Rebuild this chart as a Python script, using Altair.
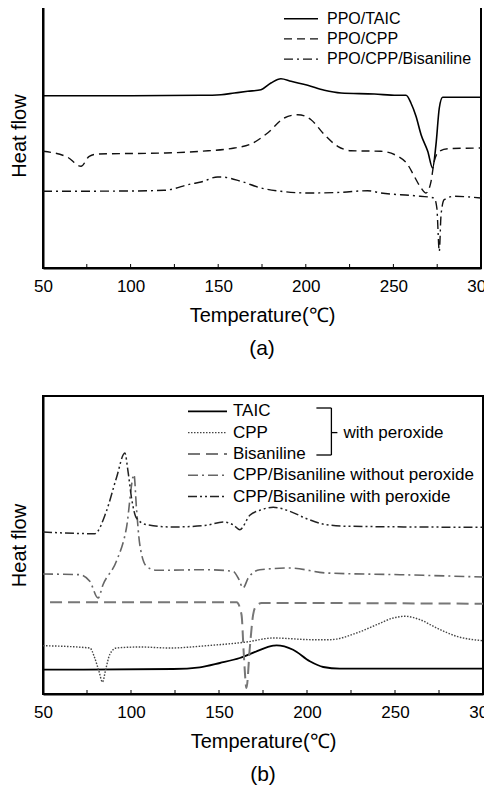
import altair as alt
import pandas as pd

# ---------------- Panel (a) data (Heat flow in arbitrary units) ----------------
A_TAIC_T = [50, 100, 140.2, 151.6, 159.2, 166.8, 174.4, 180.1, 185.8, 191.6, 201.1, 210.6, 220.1,
            239.1, 252, 257.2, 260.0, 262.9, 265.8, 269.6, 272.4, 274.3, 276.2, 278.1, 285, 300]
A_TAIC_H = [172.3, 172.3, 172.7, 173.3, 175, 176.7, 178.3, 185, 189.3, 186.7, 182.7, 177.7, 175,
            174, 172.7, 172.7, 165, 151.7, 133.3, 116.7, 100, 123.3, 160, 170.7, 170.7, 170.7]

A_CPP_T = [50, 64.1, 71.7, 76.4, 81.2, 120, 140.2, 159.2, 168.7, 178.2, 187.7, 195.4, 203, 210.6,
           218.2, 225.8, 242.9, 252.5, 258.2, 261.9, 265.8, 268.6, 271.5, 273.3, 276.2, 281, 300]
A_CPP_H = [116.7, 110.7, 101.7, 111.7, 114, 115, 116.7, 120, 124, 135, 150, 153.3, 148.3, 133.3,
           121.7, 117.3, 116.7, 111.7, 103.3, 91.7, 80, 75, 86.7, 106.7, 116.7, 119.3, 120]

A_BIS_T = [50, 100, 119.2, 134.5, 140.2, 149.7, 151.6, 163, 174.4, 185.8, 201.1, 220.1, 235.3,
           242.9, 261.9, 273.3, 274.8, 276.2, 277.2, 279, 284.8, 300]
A_BIS_H = [76.7, 77, 77.7, 84, 86, 91, 91, 86.7, 80, 76.7, 75, 75.7, 77.3,
           75, 72.3, 70, 60, 16.7, 53.3, 68.3, 71.7, 70]

A_LABELS = ["PPO/TAIC", "PPO/CPP", "PPO/CPP/Bisaniline"]

# ---------------- Panel (b) data ----------------
B_TAIC_T = [50, 123.9, 139.1, 150.5, 161.8, 171.3, 180.8, 182.7, 192.1, 201.6, 209.2, 218.7, 300]
B_TAIC_H = [24.3, 25, 26.7, 31, 36, 42.7, 48.3, 48.7, 44.3, 32.7, 27, 25.3, 25.3]

B_CPP_T = [50, 76.6, 79.4, 81.8, 83.8, 85.6, 87.9, 91.7, 105, 122, 142.9, 165.6, 180.8, 203.5,
           213, 228.2, 239.6, 249, 255.7, 264.2, 273.7, 285, 300]
B_CPP_H = [48.3, 46, 36, 22.7, 12, 24.3, 39.3, 46, 47, 46, 48.3, 52, 56, 54.3,
           54.3, 61, 69.3, 76, 77.7, 74.3, 66, 57.7, 53.3]

B_BIS_T = [54, 160, 162.8, 164.1, 165.6, 167.5, 169.4, 170.4, 174.2, 300]
B_BIS_H = [91.7, 91.7, 79.3, 39.3, 6, 46, 79.3, 86, 91, 90.3]

B_WO_T = [50, 70.9, 76.6, 81.3, 84.1, 91.7, 97.4, 101.7, 103.1, 105, 108.8, 114.5, 142.9, 158,
          160.9, 163.7, 166.6, 173.2, 190.3, 211.1, 252.8, 300]
B_WO_H = [120, 119.3, 112.7, 96, 109.3, 132.7, 166, 219.3, 186, 149.3, 127.7, 123.7, 124.3, 122.7,
          116, 106, 116, 124.3, 126, 121, 119.3, 117]

B_W_T = [50, 79.4, 86, 91.7, 96.5, 98.3, 100.3, 103.1, 108.8, 123.9, 142.9, 152.3, 158, 161.8,
         167.5, 173.2, 180.8, 190.3, 199.8, 211.1, 224.4, 300]
B_W_H = [162, 160.3, 182.7, 216, 241, 222.7, 196, 176, 169.3, 167, 168.7, 172, 169.3, 164.3,
         178.7, 183.7, 186.7, 182.7, 175.3, 169.3, 167.7, 166.7]

B_LABELS = ["TAIC", "CPP", "Bisaniline", "CPP/Bisaniline without peroxide",
            "CPP/Bisaniline with peroxide"]
BRACKET_TEXT = "with peroxide"

X_TICKS = [50, 100, 150, 200, 250, 300]
INNER_TICKS = [75, 100, 125, 150, 175, 200, 225, 250, 275]

FONT = "Liberation Sans"

A_STYLES = [
    dict(color="#000000", strokeWidth=1.6),
    dict(color="#111111", strokeWidth=1.4, strokeDash=[8, 5]),
    dict(color="#111111", strokeWidth=1.4, strokeDash=[9, 4, 2, 4]),
]
B_STYLES = [
    dict(color="#000000", strokeWidth=1.8),
    dict(color="#444444", strokeWidth=1.4, strokeDash=[1.5, 1.5]),
    dict(color="#777777", strokeWidth=2.0, strokeDash=[12, 6]),
    dict(color="#666666", strokeWidth=1.6, strokeDash=[10, 4, 2, 4]),
    dict(color="#222222", strokeWidth=1.5, strokeDash=[9, 3, 2, 3, 2, 3]),
]


def panel(series, styles, labels, W, H, ydom, leg, title, legend_font, bracket=None):
    xs = alt.Scale(domain=[50, 300], nice=False, zero=False)
    ys = alt.Scale(domain=ydom, nice=False, zero=False)
    xax = alt.Axis(values=X_TICKS, ticks=False, tickSize=0, grid=False, labelPadding=10,
                   labelFlush=False, labelOverlap=False,
                   title="Temperature(℃)", titlePadding=11, domainColor="black", domainWidth=2)
    yax = alt.Axis(labels=False, ticks=False, tickSize=0, grid=False, title="Heat flow",
                   titlePadding=14, domainColor="black", domainWidth=2)
    layers = []
    for (T, Hv), st in zip(series, styles):
        df = pd.DataFrame({"T": T, "H": Hv})
        layers.append(
            alt.Chart(df).mark_line(interpolate="monotone", **st).encode(
                x=alt.X("T:Q", scale=xs, axis=xax),
                y=alt.Y("H:Q", scale=ys, axis=yax),
            )
        )
    # inner tick marks on the bottom axis
    tdf = pd.DataFrame({"T": INNER_TICKS})
    layers.append(
        alt.Chart(tdf).mark_rule(color="black", strokeWidth=1).encode(
            x=alt.X("T:Q", scale=xs, axis=xax),
            y=alt.value(H),
            y2=alt.value(H - 4),
        )
    )
    # legend
    x1, x2, xt, y0, dy = leg
    for i, (lab, st) in enumerate(zip(labels, styles)):
        ldf = pd.DataFrame({"label": [lab]})
        yy = y0 + i * dy
        layers.append(
            alt.Chart(ldf).mark_rule(**st).encode(
                x=alt.value(x1), x2=alt.value(x2), y=alt.value(yy)
            )
        )
        layers.append(
            alt.Chart(ldf).mark_text(align="left", baseline="middle", font=FONT,
                                     fontSize=legend_font, color="black").encode(
                x=alt.value(xt), y=alt.value(yy), text="label:N"
            )
        )
    if bracket is not None:
        bx, bxl, ytop, ybot, ymid, txt = bracket
        bdf = pd.DataFrame({"label": [txt]})
        segs = [(bx, bx, ytop, ybot), (bxl, bx, ytop, ytop), (bxl, bx, ybot, ybot),
                (bx, bx + 6, ymid, ymid)]
        for (xa, xb, ya, yb) in segs:
            enc = dict(x=alt.value(xa), y=alt.value(ya))
            if xa != xb:
                enc["x2"] = alt.value(xb)
            if ya != yb:
                enc["y2"] = alt.value(yb)
            layers.append(alt.Chart(bdf).mark_rule(color="black", strokeWidth=1.3).encode(**enc))
        layers.append(
            alt.Chart(bdf).mark_text(align="left", baseline="middle", font=FONT,
                                     fontSize=legend_font, color="black").encode(
                x=alt.value(bx + 12), y=alt.value(ymid), text="label:N"
            )
        )
    return alt.layer(*layers).properties(
        width=W, height=H,
        title=alt.TitleParams(title, orient="bottom", anchor="middle", frame="group",
                              fontSize=21, fontWeight="normal", font=FONT, color="black",
                              offset=13),
    )


pa = panel(
    [(A_TAIC_T, A_TAIC_H), (A_CPP_T, A_CPP_H), (A_BIS_T, A_BIS_H)],
    A_STYLES, A_LABELS, 438, 265, [0, 265],
    (241, 275, 284, 15.7, 20.2), "(a)", 16,
)
pb = panel(
    [(B_TAIC_T, B_TAIC_H), (B_CPP_T, B_CPP_H), (B_BIS_T, B_BIS_H), (B_WO_T, B_WO_H), (B_W_T, B_W_H)],
    B_STYLES, B_LABELS, 440, 298, [0, 298],
    (145, 184, 190, 15.3, 21.3), "(b)", 17,
    bracket=(288.4, 273.4, 12, 59, 36.6, BRACKET_TEXT),
)

chart = alt.vconcat(pa, pb, spacing=35).properties(
    padding={"left": 0, "top": -6, "right": -15, "bottom": 0}
).configure_view(stroke="black", strokeWidth=2).configure_axis(
    labelFont=FONT, titleFont=FONT, labelFontSize=17, titleFontSize=20,
    titleFontWeight="normal", labelColor="black", titleColor="black",
)

chart.save("out.html", embed_options={"renderer": "svg", "actions": False})
